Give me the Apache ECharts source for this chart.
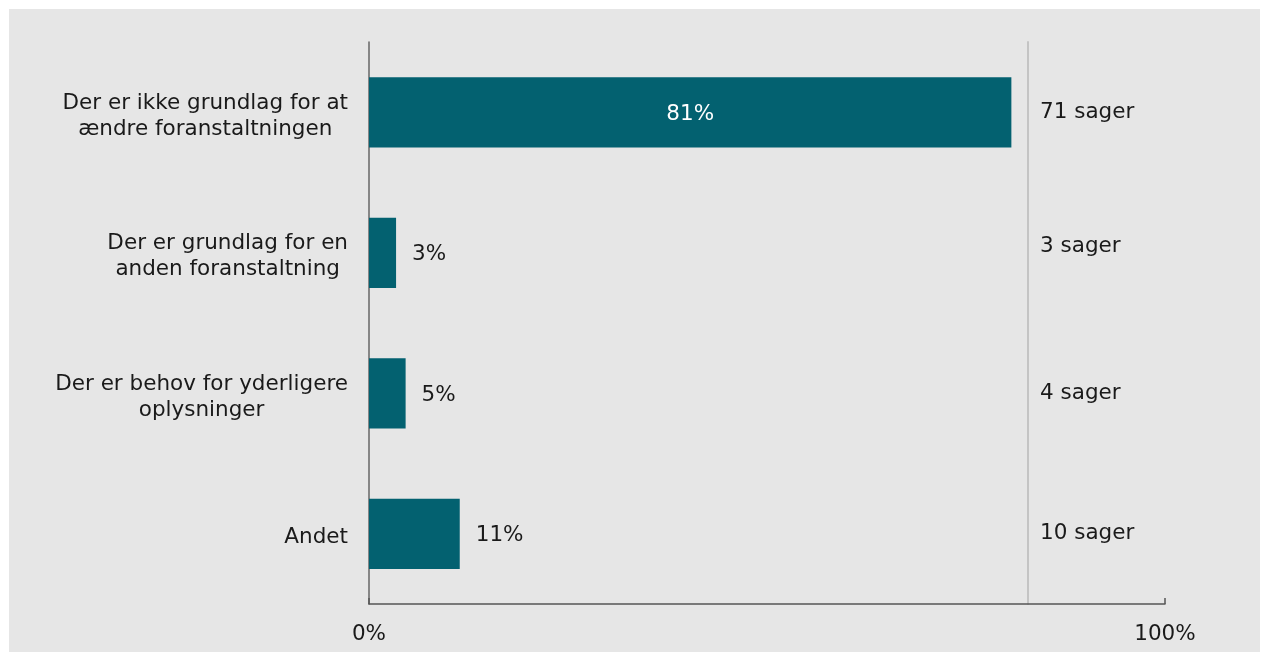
<!DOCTYPE html>
<html>
<head>
<meta charset="utf-8">
<script src="https://cdn.jsdelivr.net/npm/echarts@6/dist/echarts.min.js"></script>
<style>
  html, body { margin: 0; padding: 0; background: #fff; }
  #chart { position: absolute; left: 9px; top: 9px; width: 1251px; height: 643px; background: #e6e6e6; }
</style>
</head>
<body>
<div id="chart"></div>
<script>
  // kategorier, top til bund
  const categories = [
    'Der er ikke grundlag for at\nændre foranstaltningen',
    'Der er grundlag for en\nanden foranstaltning',
    'Der er behov for yderligere\noplysninger',
    'Andet'
  ];
  // andel i procent
  const shares = [80.7, 3.4, 4.6, 11.4];
  // antal sager
  const cases = [71, 3, 4, 10];

  const font = 'Verdana, "DejaVu Sans", sans-serif';
  const fs = 21.5;
  const chart = echarts.init(document.getElementById('chart'));

  chart.setOption({
    animation: false,
    grid: { left: 360, right: 95, top: 33, bottom: 48 },
    xAxis: {
      type: 'value',
      min: 0,
      max: 100,
      interval: 100,
      splitLine: { show: false },
      axisLine: { show: true, lineStyle: { color: '#555', width: 1.5 } },
      axisTick: { show: true, inside: true, length: 6, lineStyle: { color: '#555', width: 1.5 } },
      axisLabel: {
        margin: 19,
        color: '#1a1a1a',
        fontFamily: font,
        fontSize: fs,
        formatter: '{value}%'
      }
    },
    yAxis: [
      {
        type: 'category',
        inverse: true,
        data: categories,
        axisLine: { show: true, lineStyle: { color: '#666', width: 1.5 } },
        axisTick: { show: false },
        axisLabel: {
          margin: 21,
          formatter: function (v) { return '{c|' + v + '}'; },
          rich: {
            c: { align: 'center', color: '#1a1a1a', fontFamily: font, fontSize: fs, lineHeight: 26, padding: [8, 0, 0, 0] }
          }
        }
      },
      {
        type: 'category',
        inverse: true,
        position: 'right',
        offset: -137,
        data: cases.map(n => n + ' sager'),
        axisLine: { show: true, lineStyle: { color: '#c4c4c4', width: 2 } },
        axisTick: { show: false },
        axisLabel: {
          margin: 12,
          align: 'left',
          // "3 sager" sidder lidt højere i originalen
          formatter: (v, i) => i === 1 ? '{up|' + v + '}' : '{n|' + v + '}',
          rich: {
            n: { color: '#1a1a1a', fontFamily: font, fontSize: fs },
            up: { color: '#1a1a1a', fontFamily: font, fontSize: fs, padding: [0, 0, 12, 0] }
          }
        }
      }
    ],
    series: [
      {
        type: 'bar',
        data: shares.map((v, i) => ({
          value: v,
          label: i === 0
            ? { position: 'inside', color: '#fff' }
            : { position: 'right', distance: 16, color: '#1a1a1a' }
        })),
        barWidth: '50%',
        itemStyle: { color: '#036170' },
        label: {
          show: true,
          fontFamily: font,
          fontSize: fs,
          offset: [0, 2],
          formatter: p => Math.round(p.value) + '%'
        }
      }
    ]
  });
</script>
</body>
</html>
